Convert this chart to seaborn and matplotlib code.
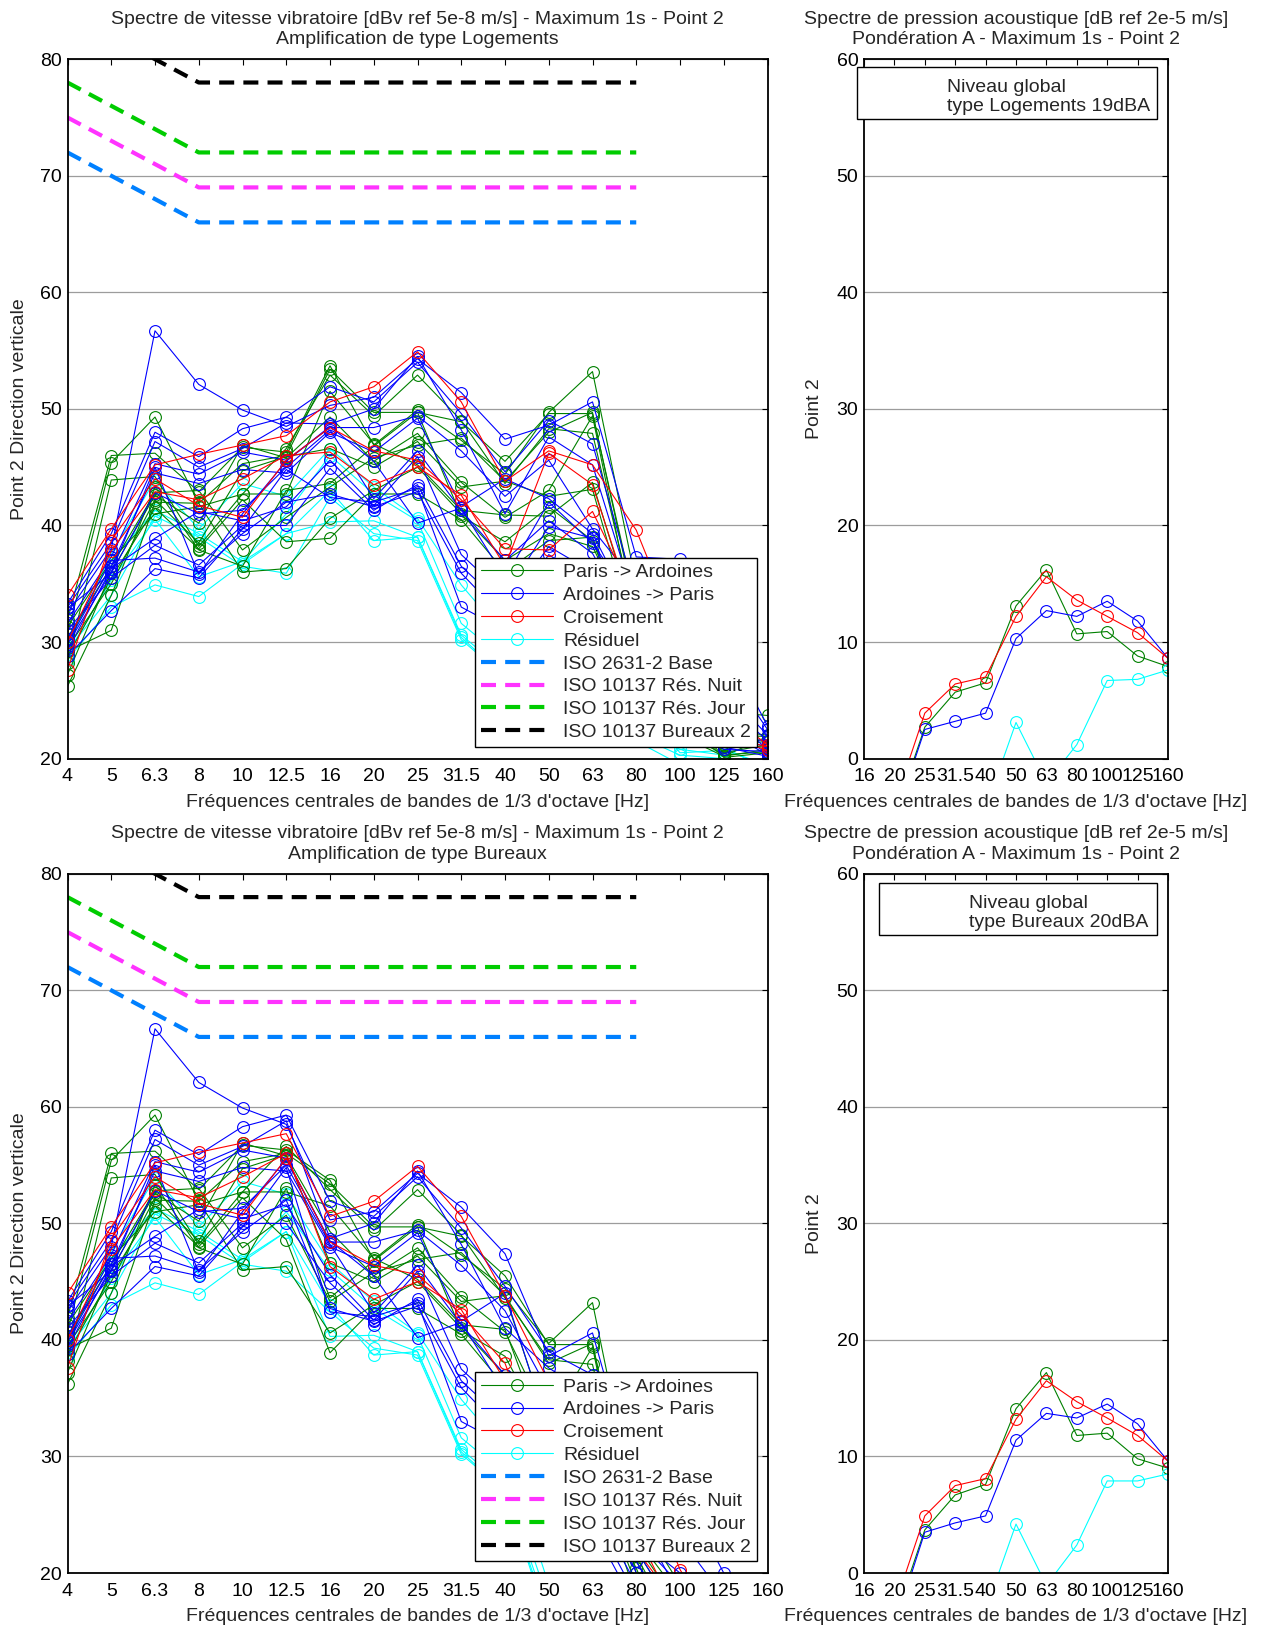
import numpy as np
import pandas as pd
import matplotlib
matplotlib.use("Agg")
import matplotlib.pyplot as plt
from matplotlib.lines import Line2D
from matplotlib.patches import Rectangle
import seaborn as sns

# ---------------------------------------------------------------- data
bandes_vib = ['4', '5', '6.3', '8', '10', '12.5', '16', '20', '25', '31.5',
              '40', '50', '63', '80', '100', '125', '160']
bandes_acou = ['16', '20', '25', '31.5', '40', '50', '63', '80', '100', '125', '160']

# Vibration velocity spectra [dBv ref 5e-8 m/s], "Logements" amplification
paris_ardoines = [
    [31.9, 46.0, 46.2, 42.9, 46.7, 46.3, 53.7, 46.9, 49.9, 47.3, 44.4, 49.7, 53.2, 35.0, 29.0, 24.0, 23.7],
    [30.7, 45.4, 49.3, 41.9, 45.3, 46.0, 53.4, 49.7, 49.7, 48.9, 45.5, 49.6, 49.6, 33.0, 28.0, 22.0, 21.9],
    [28.2, 43.9, 44.2, 38.2, 42.7, 46.6, 52.9, 49.4, 52.9, 49.0, 43.6, 48.3, 47.9, 32.0, 26.0, 21.0, 21.5],
    [27.2, 36.0, 42.6, 40.2, 46.9, 45.8, 49.3, 45.5, 47.9, 43.7, 40.7, 43.0, 49.4, 31.0, 25.0, 20.5, 21.2],
    [29.5, 35.0, 42.2, 38.5, 44.7, 45.9, 46.6, 45.0, 47.2, 43.3, 43.8, 42.5, 43.1, 30.0, 24.0, 20.2, 20.8],
    [26.2, 34.0, 43.3, 37.9, 36.5, 43.0, 43.6, 46.8, 49.7, 40.8, 38.6, 41.6, 38.7, 29.0, 23.5, 20.1, 20.5],
    [29.2, 31.0, 42.0, 41.9, 36.0, 36.3, 40.6, 43.0, 45.0, 41.0, 37.0, 39.3, 38.2, 30.4, 22.0, 20.2, 21.9],
    [28.8, 35.5, 41.5, 38.0, 42.2, 38.6, 38.9, 42.7, 42.7, 40.5, 36.0, 38.7, 39.0, 28.0, 22.5, 20.3, 20.6],
    [30.3, 36.5, 42.8, 43.0, 37.9, 40.7, 43.3, 45.8, 46.9, 47.5, 43.8, 48.0, 49.7, 32.5, 27.0, 22.5, 22.0],
    [31.3, 37.0, 41.0, 41.6, 42.7, 42.7, 51.5, 47.0, 45.2, 41.3, 40.9, 40.8, 43.7, 31.5, 24.5, 21.0, 21.0],
]
ardoines_paris = [
    [32.5, 38.0, 56.7, 52.1, 49.9, 48.5, 50.3, 51.0, 54.3, 51.4, 47.4, 48.6, 50.6, 37.3, 37.1, 30.0, 22.8],
    [33.3, 39.3, 48.0, 45.9, 48.3, 49.3, 51.9, 50.6, 54.0, 49.6, 44.6, 49.0, 47.0, 34.0, 33.0, 28.0, 22.5],
    [33.0, 38.5, 47.2, 45.0, 46.6, 48.8, 48.7, 50.0, 54.5, 48.2, 41.0, 47.6, 45.2, 33.0, 30.0, 25.0, 21.5],
    [31.6, 37.3, 45.3, 44.4, 46.3, 45.6, 48.4, 48.4, 49.4, 46.4, 42.5, 45.6, 39.7, 35.0, 28.0, 24.0, 20.8],
    [30.0, 36.5, 44.5, 43.6, 44.8, 44.5, 48.0, 46.3, 49.2, 41.6, 44.0, 42.3, 39.3, 32.0, 26.0, 22.5, 20.3],
    [32.9, 35.9, 42.8, 41.0, 41.3, 45.0, 48.2, 42.3, 46.4, 41.3, 37.0, 40.4, 37.6, 31.0, 25.0, 22.0, 21.0],
    [29.3, 36.3, 38.9, 41.2, 40.4, 41.6, 45.6, 41.7, 45.9, 37.5, 34.0, 39.9, 38.9, 30.0, 24.0, 21.0, 20.2],
    [31.0, 35.5, 38.3, 36.6, 40.0, 40.0, 44.9, 41.3, 43.5, 36.5, 33.0, 38.2, 36.0, 29.0, 23.0, 20.8, 20.6],
    [30.3, 37.0, 37.2, 36.0, 39.3, 42.0, 42.7, 41.6, 42.9, 35.9, 32.0, 37.5, 35.0, 28.0, 24.0, 22.0, 21.5],
    [28.8, 32.7, 36.3, 35.5, 39.7, 44.8, 42.4, 42.0, 43.2, 33.0, 31.0, 36.5, 34.0, 27.0, 25.0, 23.0, 20.4],
    [29.8, 36.0, 45.0, 35.8, 41.0, 45.5, 48.5, 45.5, 40.2, 41.5, 35.5, 42.0, 38.5, 33.0, 29.0, 26.0, 22.0],
]
croisement = [
    [34.0, 39.7, 45.2, 46.1, 46.9, 47.7, 50.6, 51.9, 54.9, 50.6, 43.8, 46.4, 45.2, 39.6, 30.3, 24.0, 21.2],
    [27.6, 38.7, 44.0, 41.7, 40.7, 45.6, 48.4, 46.4, 45.6, 42.2, 38.0, 37.9, 41.2, 33.5, 26.0, 22.0, 20.7],
    [30.0, 37.8, 42.9, 42.2, 44.0, 46.0, 46.3, 43.5, 45.0, 42.6, 36.5, 46.2, 43.5, 32.0, 27.0, 22.0, 21.0],
]
residuel = [
    [29.6, 37.6, 43.9, 39.7, 43.6, 42.5, 46.6, 43.3, 40.6, 34.9, 30.5, 29.0, 27.0, 25.0, 20.5, 20.7, 19.5],
    [30.3, 37.0, 41.3, 39.3, 36.9, 41.0, 46.0, 42.7, 40.4, 31.6, 28.5, 27.5, 25.5, 24.0, 21.5, 21.0, 19.0],
    [29.0, 35.3, 40.5, 35.6, 36.9, 39.3, 40.3, 40.4, 39.0, 30.6, 27.5, 26.5, 25.0, 22.5, 20.8, 20.3, 18.5],
    [29.3, 34.0, 40.8, 39.0, 36.5, 35.9, 42.4, 39.3, 38.7, 30.2, 27.0, 26.0, 24.0, 21.5, 19.5, 19.8, 18.0],
    [28.5, 33.0, 34.9, 33.9, 36.7, 39.3, 43.0, 38.7, 39.0, 30.4, 27.0, 25.5, 24.5, 22.0, 20.3, 20.0, 18.5],
]

# Difference between the "Bureaux" and "Logements" amplification, per band [dB]
ecart_bureaux = [10, 10, 10, 10, 10, 10, 0, 0, 0, 0, 0, -10, -10, -10, -10, -10, -10]

# Threshold curves, 4 Hz to 80 Hz
iso_2631_base = [72, 70, 68, 66, 66, 66, 66, 66, 66, 66, 66, 66, 66, 66]
iso_10137_nuit = [75, 73, 71, 69, 69, 69, 69, 69, 69, 69, 69, 69, 69, 69]
iso_10137_jour = [78, 76, 74, 72, 72, 72, 72, 72, 72, 72, 72, 72, 72, 72]
iso_10137_bureaux2 = [84, 82, 80, 78, 78, 78, 78, 78, 78, 78, 78, 78, 78, 78]

# Radiated noise, A-weighted [dB ref 2e-5]
acou_log_paris = [-12.0, -5.0, 2.7, 5.7, 6.5, 13.1, 16.2, 10.7, 10.9, 8.8, 7.9]
acou_log_ardoines = [-13.0, -5.3, 2.5, 3.2, 3.9, 10.3, 12.7, 12.2, 13.5, 11.8, 8.6]
acou_log_croisement = [-10.0, -3.9, 3.9, 6.4, 7.0, 12.2, 15.6, 13.6, 12.2, 10.8, 8.6]
acou_log_residuel = [-20.0, -15.0, -12.0, -8.0, -4.3, 3.1, -2.1, 1.2, 6.7, 6.8, 7.6]

acou_bur_paris = [-11.0, -4.1, 3.7, 6.7, 7.6, 14.1, 17.2, 11.8, 12.0, 9.8, 9.0]
acou_bur_ardoines = [-12.0, -4.6, 3.5, 4.3, 4.9, 11.4, 13.7, 13.3, 14.5, 12.8, 9.6]
acou_bur_croisement = [-9.0, -2.9, 4.9, 7.5, 8.1, 13.2, 16.5, 14.7, 13.3, 11.8, 9.6]
acou_bur_residuel = [-19.0, -14.0, -11.0, -7.0, -3.2, 4.2, -1.05, 2.4, 7.9, 7.9, 8.5]

# ---------------------------------------------------------------- style
sns.set_theme(style="white")
plt.rcParams['font.family'] = ['Liberation Sans', 'DejaVu Sans']
plt.rcParams['axes.unicode_minus'] = False

FS = 14
GREEN, BLUE, RED, CYAN = '#008000', '#0000FF', '#FF0000', '#00FFFF'
C_BASE, C_NUIT, C_JOUR, C_BUR = '#0080FF', '#FF33FF', '#00CC00', '#000000'
DASH = (0, (3.6, 2.2))

W, H = 1264, 1627
fig = plt.figure(figsize=(W / 100, H / 100), dpi=100)
fig.patch.set_facecolor('white')


def rect(x0, y_top, x1, y_bot):
    return [x0 / W, 1 - y_bot / H, (x1 - x0) / W, (y_bot - y_top) / H]


ax_tl = fig.add_axes(rect(67.5, 59.2, 767.5, 758.6))
ax_tr = fig.add_axes(rect(864, 59.2, 1168, 758.6))
ax_bl = fig.add_axes(rect(67.5, 873.8, 767.5, 1573))
ax_br = fig.add_axes(rect(864, 873.8, 1168, 1573))


def long_frame(series, labels, offset=None):
    rows = []
    for k, s in enumerate(series):
        vals = np.asarray(s, float)
        if offset is not None:
            vals = vals + np.asarray(offset, float)
        for i, v in enumerate(vals):
            rows.append({'run': k, 'band': i, 'label': labels[i], 'level': v})
    return pd.DataFrame(rows)


def draw_runs(ax, series, color, labels, offset=None):
    df = long_frame(series, labels, offset)
    sns.lineplot(data=df, x='band', y='level', units='run', estimator=None,
                 color=color, lw=0.8, marker='o', markersize=8.5,
                 markerfacecolor='none', markeredgecolor=color,
                 markeredgewidth=0.8, legend=False, ax=ax, sort=False)


def draw_threshold(ax, values, color):
    df = pd.DataFrame({'band': np.arange(len(values)), 'level': values})
    sns.lineplot(data=df, x='band', y='level', color=color, lw=3.0,
                 linestyle=DASH, legend=False, ax=ax, clip_on=True)


def style_axes(ax, nb, labels, ylim, yticks):
    ax.set_xlim(0, nb - 1)
    ax.set_ylim(*ylim)
    ax.set_xticks(np.arange(nb))
    ax.set_xticklabels(labels)
    ax.set_yticks(yticks)
    ax.set_yticklabels([str(t) for t in yticks])
    ax.yaxis.grid(True, color='#9c9c9c', lw=0.9)
    ax.xaxis.grid(False)
    ax.set_axisbelow(True)
    ax.tick_params(direction='in', top=True, right=True, length=4, width=0.8,
                   labelsize=FS, colors='black')
    ax.tick_params(axis='x', pad=7)
    ax.tick_params(axis='y', pad=4)
    for sp in ax.spines.values():
        sp.set_color('black')
        sp.set_linewidth(1.3)
    ax.set_xlabel("Fréquences centrales de bandes de 1/3 d'octave [Hz]",
                  fontsize=FS, labelpad=6)


def vib_panel(ax, offset, titre):
    draw_runs(ax, residuel, CYAN, bandes_vib, offset)
    draw_runs(ax, paris_ardoines, GREEN, bandes_vib, offset)
    draw_runs(ax, ardoines_paris, BLUE, bandes_vib, offset)
    draw_runs(ax, croisement, RED, bandes_vib, offset)
    draw_threshold(ax, iso_2631_base, C_BASE)
    draw_threshold(ax, iso_10137_nuit, C_NUIT)
    draw_threshold(ax, iso_10137_jour, C_JOUR)
    draw_threshold(ax, iso_10137_bureaux2, C_BUR)
    style_axes(ax, len(bandes_vib), bandes_vib, (20, 80), list(range(20, 81, 10)))
    ax.set_ylabel('Point 2 Direction verticale', fontsize=FS, labelpad=9)
    ax.set_title("Spectre de vitesse vibratoire [dBv ref 5e-8 m/s] - Maximum 1s - Point 2\n" + titre,
                 fontsize=FS, pad=11, linespacing=1.25)

    handles = [
        Line2D([], [], color=GREEN, lw=0.8, marker='o', mfc='none', mec=GREEN, ms=8.5, mew=0.8),
        Line2D([], [], color=BLUE, lw=0.8, marker='o', mfc='none', mec=BLUE, ms=8.5, mew=0.8),
        Line2D([], [], color=RED, lw=0.8, marker='o', mfc='none', mec=RED, ms=8.5, mew=0.8),
        Line2D([], [], color=CYAN, lw=0.8, marker='o', mfc='none', mec=CYAN, ms=8.5, mew=0.8),
        Line2D([], [], color=C_BASE, lw=3.0, linestyle=DASH),
        Line2D([], [], color=C_NUIT, lw=3.0, linestyle=DASH),
        Line2D([], [], color=C_JOUR, lw=3.0, linestyle=DASH),
        Line2D([], [], color=C_BUR, lw=3.0, linestyle=DASH),
    ]
    names = ['Paris -> Ardoines', 'Ardoines -> Paris', 'Croisement', 'Résiduel',
             'ISO 2631-2 Base', 'ISO 10137 Rés. Nuit', 'ISO 10137 Rés. Jour',
             'ISO 10137 Bureaux 2']
    leg = ax.legend(handles, names, loc='lower right',
                    bbox_to_anchor=(0.985, 0.0166), borderaxespad=0,
                    fontsize=FS, handlelength=3.7, handletextpad=0.55,
                    labelspacing=0.27, borderpad=0.3, frameon=True,
                    fancybox=False, edgecolor='black', framealpha=1,
                    markerfirst=True, numpoints=1)
    leg.get_frame().set_linewidth(1.0)


def acou_panel(ax, series):
    for vals, col in zip(series, [GREEN, BLUE, RED, CYAN]):
        draw_runs(ax, [vals], col, bandes_acou)
    style_axes(ax, len(bandes_acou), bandes_acou, (0, 60), list(range(0, 61, 10)))
    ax.set_ylabel('Point 2', fontsize=FS, labelpad=10)
    ax.set_title("Spectre de pression acoustique [dB ref 2e-5 m/s]\n"
                 "Pondération A - Maximum 1s - Point 2",
                 fontsize=FS, pad=11, linespacing=1.25)


vib_panel(ax_tl, None, 'Amplification de type Logements')
vib_panel(ax_bl, ecart_bureaux, 'Amplification de type Bureaux')
acou_panel(ax_tr, [acou_log_paris, acou_log_ardoines, acou_log_croisement, acou_log_residuel])
acou_panel(ax_br, [acou_bur_paris, acou_bur_ardoines, acou_bur_croisement, acou_bur_residuel])


def level_box(x0, y_top, x1, y_bot, x_text, texte):
    fig.patches.append(Rectangle((x0 / W, 1 - y_bot / H), (x1 - x0) / W, (y_bot - y_top) / H,
                                 transform=fig.transFigure, facecolor='white',
                                 edgecolor='black', lw=1.0, zorder=5))
    fig.text(x_text / W, 1 - ((y_top + y_bot) / 2 + 4) / H, texte, ha='left', va='center',
             fontsize=FS, linespacing=1.1, zorder=6)


level_box(857, 67, 1157, 119, 947, "Niveau global\ntype Logements 19dBA")
level_box(879, 883, 1157, 935, 969, "Niveau global\ntype Bureaux 20dBA")

fig.savefig('out.png', dpi=100, facecolor='white')
